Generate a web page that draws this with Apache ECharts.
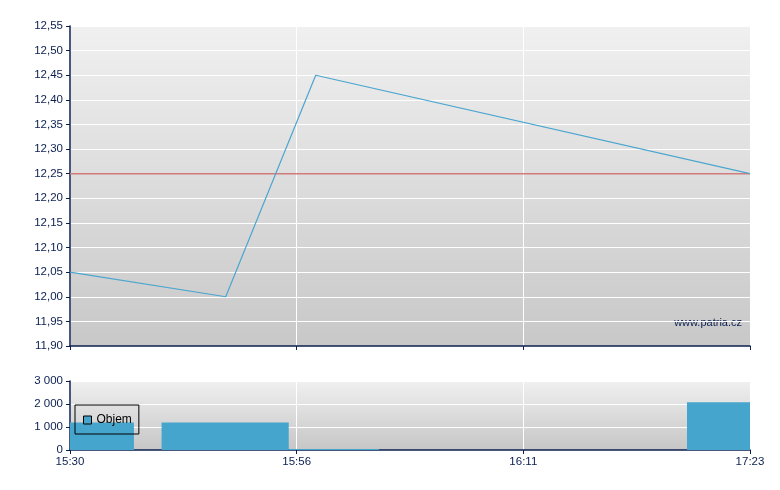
<!DOCTYPE html>
<html><head><meta charset="utf-8">
<script src="https://cdn.jsdelivr.net/npm/echarts@6/dist/echarts.min.js"></script>
<style>html,body{margin:0;padding:0;background:#fff}#c{width:780px;height:490px}</style>
</head><body><div id="c"></div>
<script>
// tick labels at index positions 0..3
const tickLabels = ['15:30', '15:56', '16:11', '17:23'];
// price line points (x in tick-index units)
const priceX = [0, 0.687, 1.084, 3];
const priceY = [12.05, 12.00, 12.45, 12.25];
// previous close (reference line across the whole range)
const prevClose = 12.25;
const prevCloseX = [0, 3];
// volume bars: start, end (tick-index units), value
const volStart = [0, 0.404, 0.965, 2.722];
const volEnd = [0.282, 0.965, 1.363, 3];
const volValue = [1200, 1200, 40, 2080];

const navy = '#0b1f4f';
const bgGrad = (a, b) => new echarts.graphic.LinearGradient(0, 0, 0, 1, [{offset: 0, color: a}, {offset: 1, color: b}]);
const font = 'Liberation Sans, Arial, sans-serif';

const chart = echarts.init(document.getElementById('c'), null, {renderer: 'canvas'});
const xCommon = {
  type: 'value', min: 0, max: tickLabels.length - 1, interval: 1,
  axisLine: {show: true, lineStyle: {color: navy, width: 1.5}},
  axisTick: {show: true, length: 4, lineStyle: {color: navy}},
  splitLine: {show: true, lineStyle: {color: '#ffffff', width: 1}},
  axisLabel: {color: navy, fontSize: 11.5, fontFamily: font, margin: 6,
    formatter: v => tickLabels[Math.round(v)] || ''}
};
chart.setOption({
  animation: false,
  grid: [
    {left: 70, right: 30, top: 26, height: 320, show: true, borderWidth: 0, backgroundColor: bgGrad('#f0f0f0', '#c8c8c8')},
    {left: 70, right: 30, top: 381, height: 69, show: true, borderWidth: 0, backgroundColor: bgGrad('#f0f0f0', '#c6c6c6')}
  ],
  xAxis: [
    Object.assign({}, xCommon, {gridIndex: 0, axisLabel: {show: false}}),
    Object.assign({}, xCommon, {gridIndex: 1})
  ],
  yAxis: [
    {type: 'value', gridIndex: 0, min: 11.9, max: 12.55, interval: 0.05,
      axisLine: {show: true, lineStyle: {color: navy, width: 1.5}},
      axisTick: {show: true, length: 4, lineStyle: {color: navy}},
      splitLine: {show: true, lineStyle: {color: '#ffffff', width: 1}},
      axisLabel: {color: navy, fontSize: 11.5, fontFamily: font, margin: 7,
        formatter: v => v.toFixed(2).replace('.', ',')}},
    {type: 'value', gridIndex: 1, min: 0, max: 3000, interval: 1000,
      axisLine: {show: true, lineStyle: {color: navy, width: 1.5}},
      axisTick: {show: true, length: 4, lineStyle: {color: navy}},
      splitLine: {show: true, lineStyle: {color: '#ffffff', width: 1}},
      axisLabel: {color: navy, fontSize: 11.5, fontFamily: font, margin: 7,
        formatter: v => String(v).replace(/\B(?=(\d{3})+(?!\d))/g, ' ')}}
  ],
  legend: {
    data: [{name: 'Objem', icon: 'rect'}],
    left: 75, top: 405, orient: 'vertical',
    borderColor: '#000', borderWidth: 1, padding: [9, 7, 8, 8],
    itemWidth: 8, itemHeight: 8, itemGap: 4,
    itemStyle: {color: '#45a5cd', borderColor: '#000', borderWidth: 1},
    textStyle: {color: '#000', fontSize: 12, fontFamily: font}
  },
  graphic: [{type: 'text', right: 38, top: 317,
    style: {text: 'www.patria.cz', fill: navy, font: '11px ' + font}}],
  series: [
    {type: 'line', name: 'Předchozí', xAxisIndex: 0, yAxisIndex: 0, symbol: 'none',
      lineStyle: {color: '#d07c7c', width: 1.5}, z: 2,
      data: prevCloseX.map(x => [x, prevClose])},
    {type: 'line', name: 'Cena', xAxisIndex: 0, yAxisIndex: 0, symbol: 'none',
      lineStyle: {color: '#4ba6cf', width: 1.2}, z: 3,
      data: priceX.map((x, i) => [x, priceY[i]])},
    {type: 'custom', name: 'Objem', xAxisIndex: 1, yAxisIndex: 1,
      itemStyle: {color: '#45a5cd'},
      encode: {x: [0, 1], y: 2},
      data: volStart.map((s, i) => [s, volEnd[i], volValue[i]]),
      renderItem: (params, api) => {
        const p0 = api.coord([api.value(0), api.value(2)]);
        const p1 = api.coord([api.value(1), 0]);
        return {type: 'rect',
          shape: {x: p0[0], y: p0[1], width: p1[0] - p0[0], height: Math.max(p1[1] - p0[1], 1)},
          style: {fill: '#45a5cd'}};
      }}
  ]
});
</script></body></html>
